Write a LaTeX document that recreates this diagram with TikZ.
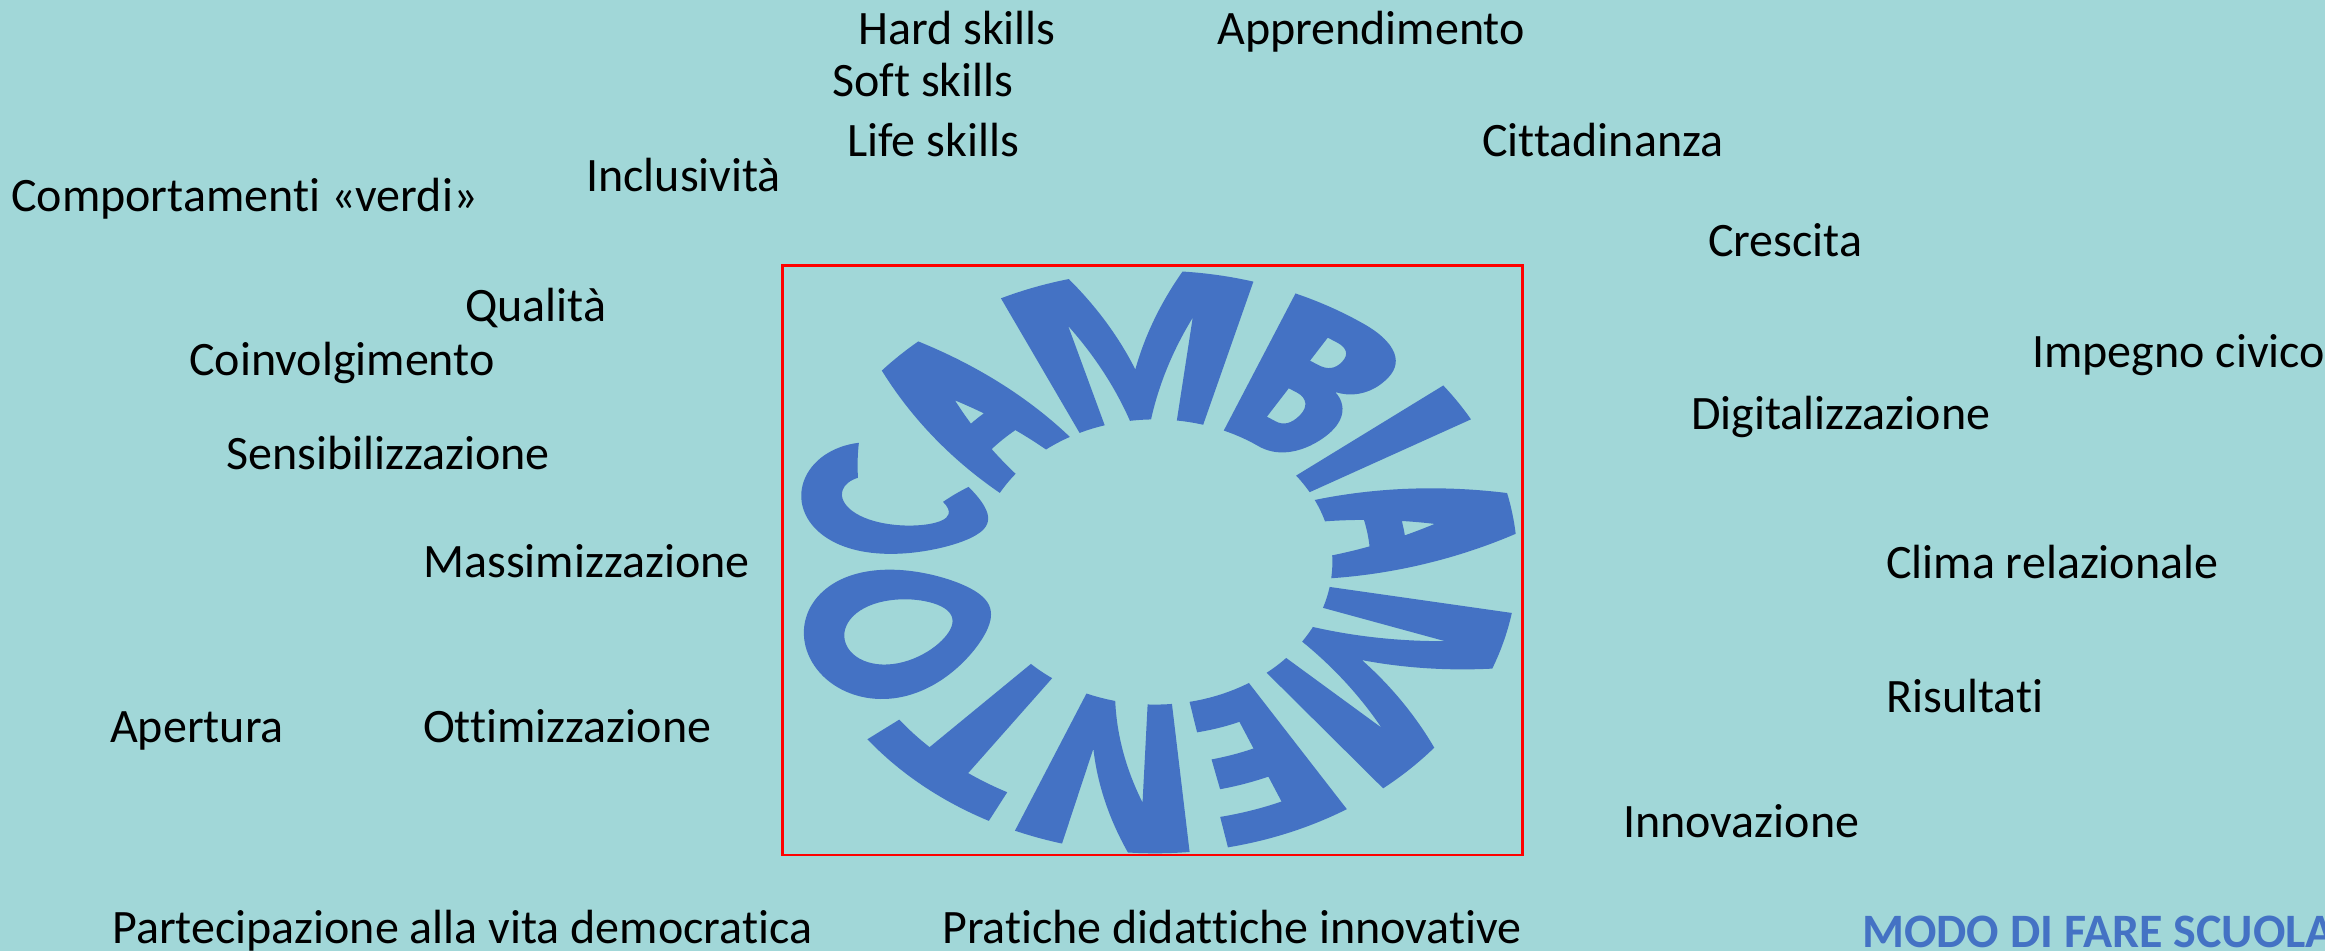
\documentclass[tikz,border=0pt]{standalone}
\usepackage{fontspec}
\setmainfont{Carlito}[Ligatures={NoCommon}]
\usepgfmodule{nonlineartransformations}
\definecolor{bg}{HTML}{A1D7D8}
\definecolor{wablue}{HTML}{4472C4}
\newdimen\warpA
\newdimen\warpB
\newdimen\warpR
\makeatletter
% text strip (u = position along the word, v = height) -> elliptic ring
\def\warptransform{%
  \warpA=\pgf@x
  \warpB=-0.054258\warpA
  \advance\warpB by 180pt
  \pgfmathsincos@{\pgf@sys@tonumber\warpB}%
  \warpR=0.000807\pgf@y
  \advance\warpR by 0.49pt
  \pgf@x=\pgfmathresultx\warpR
  \pgf@x=362\pgf@x
  \advance\pgf@x by 1155pt
  \pgf@y=\pgfmathresulty\warpR
  \pgf@y=291\pgf@y
  \advance\pgf@y by 389pt
}
\makeatother
\begin{document}
\begin{tikzpicture}[x=1pt,y=1pt,
  lbl/.style={anchor=base west, inner sep=0pt, font=\fontsize{48}{58}\selectfont, text=black},
  ttl/.style={anchor=base west, inner sep=0pt, font=\fontsize{48}{58}\selectfont\bfseries, text=wablue},
  glyph/.style={fill=wablue, even odd rule},
  frame/.style={draw=red, line width=2.5pt, inner sep=0pt, anchor=south west}]
\fill[bg] (0,0) rectangle (2325,951);
\useasboundingbox (0,0) rectangle (2325,951);

% red frame around the circular word
\node[frame, minimum width=740pt, minimum height=589pt] (box) at (781,95) {};

% CAMBIAMENTO warped onto a ring
\begin{scope}
\pgfsettransformnonlinearflatness{8pt}
\pgftransformnonlinear{\warptransform}
% C
\path[glyph] (490.3,525.5) .. controls (441.9,599.3) and (370.4,642) .. (295,642)
  .. controls (154.2,642) and (40,496) .. (40,316)
  .. controls (40,136) and (154.2,-10) .. (295,-10)
  .. controls (370.4,-10) and (441.9,32.7) .. (490.3,106.5)
  -- (358.1,162.0) .. controls (339.6,139.9) and (317.6,128) .. (295,128)
  .. controls (234.2,128) and (185,212.2) .. (185,316)
  .. controls (185,419.8) and (234.2,504) .. (295,504)
  .. controls (317.6,504) and (339.6,492.1) .. (358.1,470) -- cycle;
% A
\path[glyph, shift={(529,0)}] (5,0) -- (228,632) -- (378,632) -- (601,0) -- (431,0) -- (385,130)
  -- (221,130) -- (175,0) -- cycle (265,255) -- (303,363) -- (341,255) -- cycle;
% M
\path[glyph, shift={(1135,0)}] (60,0) -- (60,632) -- (270,632) -- (437,215) -- (604,632) -- (814,632)
  -- (814,0) -- (654,0) -- (654,440) -- (500,0) -- (374,0) -- (220,440) -- (220,0) -- cycle;
% B
\path[glyph, shift={(2009,0)}] (70,0) -- (70,632) -- (300,632) .. controls (440,632) and (490,575) .. (490,480)
  .. controls (490,405) and (450,360) .. (395,343)
  .. controls (470,328) and (525,270) .. (525,180)
  .. controls (525,60) and (435,0) .. (305,0) -- cycle
  (235,400) -- (270,400) .. controls (310,400) and (330,420) .. (330,458)
  .. controls (330,500) and (305,515) .. (272,515) -- (235,515) -- cycle
  (235,120) -- (285,120) .. controls (335,120) and (358,145) .. (358,190)
  .. controls (358,235) and (325,262) .. (278,262) -- (235,262) -- cycle;
% I
\path[glyph, shift={(2570,0)}] (60,0) -- (60,632) -- (207,632) -- (207,0) -- cycle;
% A
\path[glyph, shift={(2837,0)}] (5,0) -- (228,632) -- (378,632) -- (601,0) -- (431,0) -- (385,130)
  -- (221,130) -- (175,0) -- cycle (265,255) -- (303,363) -- (341,255) -- cycle;
% M
\path[glyph, shift={(3443,0)}] (60,0) -- (60,632) -- (270,632) -- (437,215) -- (604,632) -- (814,632)
  -- (814,0) -- (654,0) -- (654,440) -- (500,0) -- (374,0) -- (220,440) -- (220,0) -- cycle;
% E
\path[glyph, shift={(4317,0)}] (70,0) -- (70,632) -- (445,632) -- (445,500) -- (235,500) -- (235,385)
  -- (420,385) -- (420,255) -- (235,255) -- (235,132) -- (452,132) -- (452,0) -- cycle;
% N
\path[glyph, shift={(4805,0)}] (70,0) -- (70,632) -- (250,632) -- (445,215) -- (445,632) -- (590,632)
  -- (590,0) -- (410,0) -- (215,417) -- (215,0) -- cycle;
% T
\path[glyph, shift={(5464,0)}] (15,632) -- (480,632) -- (480,495) -- (330,495) -- (330,0) -- (165,0)
  -- (165,495) -- (15,495) -- cycle;
% O
\path[glyph, shift={(5959,0)}] (638,316) .. controls (638,496) and (503.7,642) .. (338,642)
  .. controls (172.3,642) and (38,496) .. (38,316)
  .. controls (38,136) and (172.3,-10) .. (338,-10)
  .. controls (503.7,-10) and (638,136) .. (638,316) -- cycle
  (488,316) .. controls (488,420.9) and (420.8,506) .. (338,506)
  .. controls (255.2,506) and (188,420.9) .. (188,316)
  .. controls (188,211.1) and (255.2,126) .. (338,126)
  .. controls (420.8,126) and (488,211.1) .. (488,316) -- cycle;
\end{scope}

% surrounding words
\node[lbl] (hard) at (858,906) {Hard skills};
\node[lbl] (appr) at (1217,906) {Apprendimento};
\node[lbl] (soft) at (832,854) {Soft skills};
\node[lbl] (life) at (847,794) {Life skills};
\node[lbl] (citt) at (1482,794) {Cittadinanza};
\node[lbl] (comp) at (11,739) {Comportamenti «verdi»};
\node[lbl] (incl) at (586,759) {Inclusività};
\node[lbl] (cres) at (1708,694) {Crescita};
\node[lbl] (qual) at (465,629) {Qualità};
\node[lbl] (impe) at (2032,583) {Impegno civico};
\node[lbl] (coin) at (189,575) {Coinvolgimento};
\node[lbl] (digi) at (1691,521) {Digitalizzazione};
\node[lbl] (sens) at (226,481) {Sensibilizzazione};
\node[lbl] (mass) at (423,373) {Massimizzazione};
\node[lbl] (clim) at (1886,372) {Clima relazionale};
\node[lbl] (risu) at (1886,239) {Risultati};
\node[lbl] (aper) at (110,209) {Apertura};
\node[lbl] (otti) at (423,209) {Ottimizzazione};
\node[lbl] (inno) at (1623,114) {Innovazione};
\node[lbl] (part) at (112,8) {Partecipazione alla vita democratica};
\node[lbl] (prat) at (942,8) {Pratiche didattiche innovative};
\node[ttl] (modo) at (1862,4) {MODO DI FARE SCUOLA};
\end{tikzpicture}
\end{document}
